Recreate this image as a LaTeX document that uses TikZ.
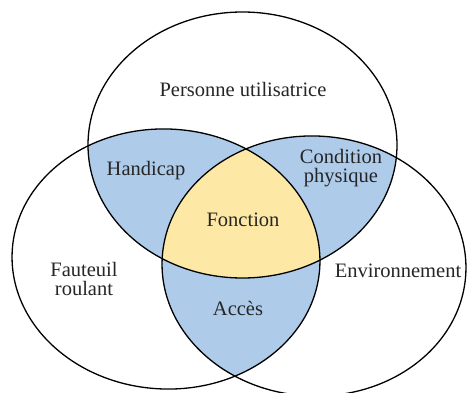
\documentclass[tikz,border=0pt]{standalone}
\usepackage{fontspec}
\setmainfont{Liberation Serif}
\definecolor{vblue}{HTML}{AECBEA}
\definecolor{vyellow}{HTML}{FDE8A6}
\newcommand\ellTop{(242.5,247) ellipse [x radius=154.5pt, y radius=133pt]}
\newcommand\ellLeft{[rotate around={-2.5:(166,133)}] (166,133) ellipse [x radius=154pt, y radius=130pt]}
\newcommand\ellRight{[rotate around={-2.5:(314,126)}] (314,126) ellipse [x radius=152pt, y radius=130pt]}
\begin{document}
\begin{tikzpicture}[x=1pt,y=1pt,
  lbl/.style={inner sep=0pt, text=black!85, align=center,
    font=\fontsize{20.5}{18.8}\selectfont},
  outline/.style={draw=black, line width=1.3pt}]
\useasboundingbox (0,0) rectangle (467,392);
\fill[white] (0,0) rectangle (467,392);
% pairwise intersections (blue)
\begin{scope}
  \clip \ellTop;
  \fill[vblue] \ellLeft;
  \fill[vblue] \ellRight;
\end{scope}
\begin{scope}
  \clip \ellLeft;
  \fill[vblue] \ellRight;
\end{scope}
% triple intersection (yellow)
\begin{scope}
  \clip \ellLeft;
  \clip \ellTop;
  \fill[vyellow] \ellRight;
\end{scope}
% outlines
\draw[outline] \ellTop;
\draw[outline] \ellLeft;
\draw[outline] \ellRight;
% labels
\node[lbl, anchor=base] (pers) at (243,295) {Personne utilisatrice};
\node[lbl, anchor=base] (hand) at (146,217) {Handicap};
\node[lbl] (cond) at (341,223.8) {Condition\\physique};
\node[lbl, anchor=base] (fonc) at (243,165) {Fonction};
\node[lbl] (faut) at (84,112.8) {Fauteuil\\roulant};
\node[lbl, anchor=base] (env) at (398,114) {Environnement};
\node[lbl, anchor=base] (acc) at (238,77) {Accès};
\end{tikzpicture}
\end{document}
